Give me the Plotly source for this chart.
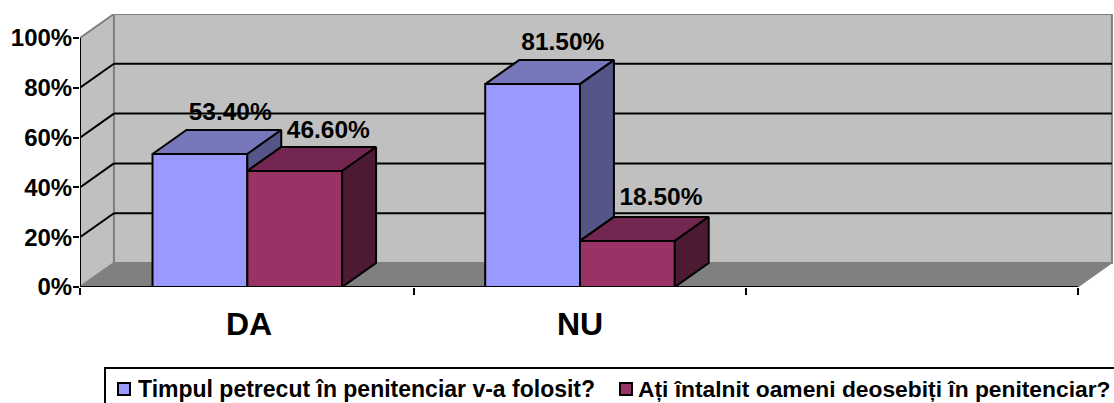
import plotly.graph_objects as go

categories = ['DA', 'NU']
series_names = ['Timpul petrecut în penitenciar v-a folosit?', 'Ați întalnit oameni deosebiți în penitenciar?']
timpul = [53.4, 81.5]
oameni = [46.6, 18.5]
y_ticks = [0, 20, 40, 60, 80, 100]
y_labels = ['0%', '20%', '40%', '60%', '80%', '100%']

# fake 3d depth of the excel chart, in axis units
DX = 0.102
DY = 9.64
BAR_W = 0.285
X_MAX = 2.5
SHIFT = 0.003
FONT = 'Liberation Sans'

blue = dict(front='#9999FF', top='#7777BB', side='#555588')
red = dict(front='#993366', top='#722650', side='#4D1A33')

# the labels were moved by hand in the original, so each gets its own lift
lift_blue = [1.4, 1.6]
lift_red = [1.2, 2.4]


def poly(xs, ys, color):
    return go.Scatter(x=xs, y=ys, mode='lines', fill='toself', fillcolor=color,
                      line=dict(color='black', width=2), hoverinfo='skip')


fig = go.Figure()

# front faces
for name, vals, offs, col in [(series_names[0], timpul, -BAR_W, blue), (series_names[1], oameni, 0, red)]:
    fig.add_trace(go.Bar(x=[SHIFT, 1 + SHIFT], y=vals, width=BAR_W, offset=offs, name=name,
                         marker=dict(color=col['front'], line=dict(color='black', width=2))))

# blue top and the part of its side that sticks out over the red bar
for i, v in enumerate(timpul):
    x0, x1 = i - BAR_W + SHIFT, i + SHIFT
    fig.add_trace(poly([x0, x1, x1 + DX, x0 + DX, x0], [v, v, v + DY, v + DY, v], blue['top']))
    r = oameni[i]
    fig.add_trace(poly([x1, x1 + DX, x1 + DX, x1, x1], [r, r + DY, v + DY, v, r], blue['side']))

# red top and side
for i, v in enumerate(oameni):
    x0, x1 = i + SHIFT, i + BAR_W + SHIFT
    fig.add_trace(poly([x0, x1, x1 + DX, x0 + DX, x0], [v, v, v + DY, v + DY, v], red['top']))
    fig.add_trace(poly([x1, x1 + DX, x1 + DX, x1, x1], [0, DY, v + DY, v, 0], red['side']))

# value labels, on the back edge of the top face
lab_x, lab_y, lab_t = [], [], []
for i in range(len(categories)):
    lab_x += [i - BAR_W / 2 + DX - 0.008, i + BAR_W / 2 + DX + 0.002]
    lab_y += [timpul[i] + DY + lift_blue[i], oameni[i] + DY + lift_red[i]]
    lab_t += [f'{timpul[i]:.2f}%', f'{oameni[i]:.2f}%']
fig.add_trace(go.Scatter(x=lab_x, y=lab_y, text=lab_t, mode='text', textposition='top center',
                         textfont=dict(family=FONT, size=24.5, color='black', weight='bold'),
                         cliponaxis=False, hoverinfo='skip'))

L = -0.5
shapes = [
    # back wall, side wall, floor
    dict(type='path', path=f'M{L + DX},{DY} L{X_MAX + DX},{DY} L{X_MAX + DX},{100 + DY} L{L + DX},{100 + DY} Z',
         fillcolor='#C0C0C0', line=dict(color='#808080', width=2), layer='below'),
    dict(type='path', path=f'M{L},0 L{L + DX},{DY} L{L + DX},{100 + DY} L{L},100 Z',
         fillcolor='#C0C0C0', line=dict(color='#808080', width=2), layer='below'),
    dict(type='path', path=f'M{L},0 L{X_MAX},0 L{X_MAX + DX},{DY} L{L + DX},{DY} Z',
         fillcolor='#808080', line=dict(color='#808080', width=1), layer='below'),
]
for t in y_ticks[1:-1]:
    shapes.append(dict(type='line', x0=L + DX, x1=X_MAX + DX, y0=t + DY, y1=t + DY,
                       line=dict(color='black', width=2), layer='below'))
    shapes.append(dict(type='line', x0=L, x1=L + DX, y0=t, y1=t + DY,
                       line=dict(color='black', width=2), layer='below'))
# axis lines
shapes.append(dict(type='line', x0=L, x1=L, y0=0, y1=100, line=dict(color='black', width=2)))
shapes.append(dict(type='line', x0=L, x1=X_MAX, y0=0, y1=0, line=dict(color='black', width=2)))

# legend box, cut off by the bottom and right of the picture
PLOT_W, PLOT_H = 1034, 273


def px_x(p):
    return (p - 80) / PLOT_W


def px_y(p):
    return (287 - p) / PLOT_H


shapes.append(dict(type='rect', xref='paper', yref='paper', x0=px_x(105), x1=px_x(1125),
                   y0=px_y(368), y1=px_y(410), line=dict(color='black', width=2), fillcolor='white'))
annotations = []
for name, col, sw, tx, fs in [(series_names[0], blue, 118, 136, 23), (series_names[1], red, 620, 636, 22.8)]:
    shapes.append(dict(type='rect', xref='paper', yref='paper', x0=px_x(sw), x1=px_x(sw + 12),
                       y0=px_y(383), y1=px_y(395), fillcolor=col['front'], line=dict(color='black', width=2)))
    annotations.append(dict(text=f'<b>{name}</b>', xref='paper', yref='paper', x=px_x(tx), y=px_y(389),
                            xanchor='left', yanchor='middle', showarrow=False, align='left',
                            font=dict(family=FONT, size=fs, color='black')))

fig.update_layout(
    width=1114, height=403,
    margin=dict(l=80, r=0, t=14, b=116),
    paper_bgcolor='white', plot_bgcolor='rgba(0,0,0,0)',
    showlegend=False, shapes=shapes, annotations=annotations,
    font=dict(family=FONT, color='black'),
    xaxis=dict(range=[L, L + PLOT_W / (998 / 3)], tickmode='array', tickvals=[0.008, 1 + SHIFT], ticktext=categories,
               tickfont=dict(family=FONT, size=32, color='black', weight='bold'), ticks='', showgrid=False,
               zeroline=False, showline=False, ticklabelstandoff=15,
               minor=dict(tickmode='array', tickvals=[L, 0.5 + SHIFT, 1.5 + SHIFT, X_MAX], ticks='outside', ticklen=7,
                          tickwidth=2, tickcolor='black', showgrid=False)),
    yaxis=dict(range=[0, PLOT_H / 2.49], tickmode='array', tickvals=y_ticks, ticktext=y_labels,
               tickfont=dict(family=FONT, size=24, color='black', weight='bold'), ticks='outside', ticklen=6,
               tickwidth=2, tickcolor='black', showgrid=False, zeroline=False, showline=False,
               ticklabelstandoff=-4),
)

fig.write_html("out.html", config=dict(displayModeBar=False), post_script="document.body.style.margin='0';")
